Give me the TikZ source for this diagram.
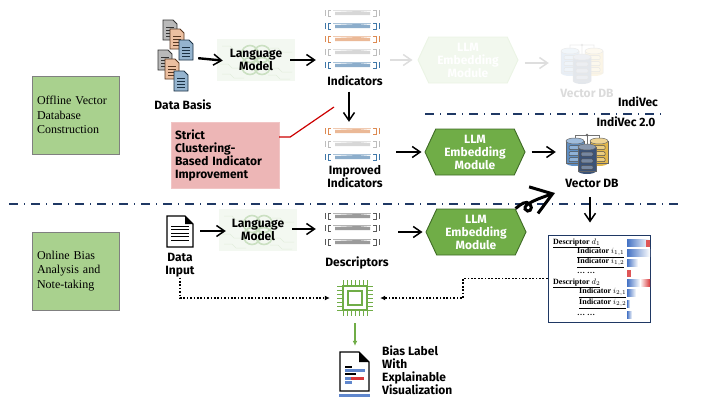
\documentclass[tikz,border=0pt]{standalone}
\usepackage{amsmath,amssymb}
\usepackage{fontspec}
\usepackage{xcolor}
\setmainfont{Liberation Serif}
\newfontfamily\handfont{Fira Sans}
\usepackage{tikz}
\usetikzlibrary{shapes.symbols,arrows.meta,positioning,calc}
\definecolor{navyline}{HTML}{1F3864}
\definecolor{hexgreen}{HTML}{70AD47}
\definecolor{hexedge}{HTML}{3F6B26}
\definecolor{sidegreen}{HTML}{A9D18E}
\definecolor{pinkfill}{HTML}{EDB6B6}
\definecolor{docgray}{HTML}{7F7F7F}
\definecolor{docorange}{HTML}{DD8A52}
\definecolor{docblue}{HTML}{3F77A8}
\definecolor{barpale}{HTML}{BDBDBD}
\definecolor{bardark}{HTML}{595959}
\definecolor{lmpale}{HTML}{F3F8F1}
\definecolor{lmring}{HTML}{CBE0C2}
\definecolor{lmtrace}{HTML}{E2EEDD}
\definecolor{heatblue}{HTML}{4472C4}
\definecolor{heatred}{HTML}{D9383A}
\definecolor{dbyellow}{HTML}{E3B84B}
\definecolor{dbnavy}{HTML}{3B5378}
\definecolor{dbblue}{HTML}{5F8FC4}
\newcommand{\dbcyl}[4]{% x, y, half height, colour
  \fill[#4] (#1,#2+#3) ellipse (9pt and 3pt);
  \filldraw[draw=black!60, fill=#4, line width=0.5pt] (#1-9,#2-#3) rectangle (#1+9,#2+#3);
  \filldraw[draw=black!60, fill=#4!60!white, line width=0.5pt] (#1,#2-#3) ellipse (9pt and 3pt);
  \foreach \k in {-0.4,0.15,0.7}
    \draw[black!70, line width=0.5pt, rounded corners=1pt, fill=white!30!#4] (#1-6,{#2+\k*#3-2}) rectangle (#1+6,{#2+\k*#3+2});
}
\tikzset{
  hexmod/.style={signal, signal to=east and west, signal pointer angle=130, draw=hexedge, line width=0.9pt,
                 fill=hexgreen, text=white, align=center, minimum width=100pt, minimum height=46pt, inner sep=0pt,
                 font=\handfont\bfseries\fontsize{12}{13}\selectfont},
  hexfade/.style={hexmod, draw=hexgreen!14, fill=hexgreen!9},
  hand/.style={align=center, inner sep=0pt, font=\handfont\bfseries\fontsize{12}{13}\selectfont},
  sidebox/.style={rectangle, draw=black!50, line width=0.8pt, fill=sidegreen, text width=77pt, minimum width=87pt,
                  minimum height=78pt, inner sep=5pt, align=left, font=\fontsize{12}{14.5}\selectfont},
  iconbox/.style={rectangle, inner sep=0pt},
  lmbox/.style={rectangle, fill=lmpale, minimum width=78pt, minimum height=42pt, inner sep=0pt, align=center,
                font=\handfont\bfseries\fontsize{12}{13}\selectfont,
    path picture={
      \foreach \dx/\dy in {-34/-14,14/-12,-36/4,14/8,-34/14,12/15}
        \draw[lmtrace, line width=0.5pt] ($(path picture bounding box.center)+(\dx,\dy)$) -- ++(8,0) -- ++(4,4) -- ++(10,0);
      \foreach \dx/\dy in {-6/-6,6/-6,-6/6,6/6}
        \draw[lmring, line width=1.6pt] ($(path picture bounding box.center)+(\dx,\dy)$) circle (8.5pt);
    }},
  ar/.style={-{Straight Barb[length=8pt,width=11pt,line width=1.5pt]}, line width=2.4pt},
  arfade/.style={ar, draw=black!13},
  bigar/.style={-{Straight Barb[length=20pt,width=28pt,line width=3pt]}, line width=3pt},
  dotar/.style={-{Latex[length=5pt,width=5pt]}, line width=1.5pt, dash pattern=on 1.7pt off 1.7pt},
  sepline/.style={navyline, line width=1.2pt, dash pattern=on 9pt off 6pt on 1pt off 6pt},
  pics/docicon/.style={code={
    \filldraw[draw=black!60!#1, fill=#1!55!white, line width=0.9pt] (-7,-10) -- (3,-10) -- (7,-6) -- (7,10) -- (-7,10) -- cycle;
    \foreach \yy in {-3,0,3,6}
      \draw[black!60!#1, line width=0.6pt] (-4,\yy) -- (4,\yy);
  }},
  pics/indbar/.style={code={
    \draw[#1, line width=0.9pt] (-27,-3) -- (-27,3) (-21,-3) -- (-24,-3) -- (-24,3) -- (-21,3);
    \draw[#1, line width=0.9pt] (27,-3) -- (27,3) (21,-3) -- (24,-3) -- (24,3) -- (21,3);
    \draw[#1!45!white, line width=0.4pt] (-19,-3) -- (19,-3);
    \fill[#1!60!white] (-17,-1) -- (6,-2) -- (18,-1) -- (18,2) -- (-17,2) -- cycle;
  }},
  pics/chipicon/.style={code={
    \draw[hexgreen, line width=1.8pt] (-12,-12) rectangle (12,12);
    \draw[hexgreen, line width=1.6pt] (-7,-7) rectangle (7,7);
    \foreach \pp in {-12,-8,-4,0,4,8,12} {
      \draw[hexgreen, line width=0.9pt] (\pp,-18) -- (\pp,-13) (\pp,13) -- (\pp,18) (-18,\pp) -- (-13,\pp) (13,\pp) -- (18,\pp);
    }
  }},
  pics/dbicon/.style={code={
    \draw[black!55, line width=0.8pt] (-12,-13) -- (-12,-18) -- (12,-18) -- (12,-13) (0,-18) -- (0,-6);
    \fill[black!60] (0,-18) circle (1.4pt);
    \dbcyl{-12}{-1}{11}{dbblue}
    \dbcyl{12}{-1}{11}{dbyellow}
    \dbcyl{0}{6}{12}{dbnavy}
  }}
}
\begin{document}
\begin{tikzpicture}[x=1pt, y=-1pt]
\useasboundingbox (0,0) rectangle (720,405);
% ---- side boxes ----
\node[sidebox] (offbox) at (75.5,115) {Offline Vector\\Database\\Construction};
\node[sidebox] (onbox) at (75.5,271) {Online Bias\\Analysis and\\Note-taking};
% ---- upper row ----
\node[iconbox, minimum width=36pt, minimum height=70pt] (docs) at (178,58) {};
\foreach \cc/\xx/\yy in {docgray/170/30,docorange/177/39,docblue/186/50,docgray/165/60,docorange/172/69,docblue/181/81}
  \pic at (\xx,\yy) {docicon=\cc};
\node[hand, below=6pt of docs, xshift=5pt] (docslbl) {Data Basis};
\node[lmbox] (lmup) at (256,60) {Language\\Model};
\draw[ar, shorten <=2pt, shorten >=-6pt] (docs.east) -- (lmup.west);
\node[iconbox, minimum width=56pt, minimum height=60pt] (inds) at (352,39) {};
\foreach \cc/\yy in {barpale/13,docblue/26,docorange/39,barpale/52,docblue/65}
  \pic at (352,\yy) {indbar=\cc};
\draw[ar, shorten <=-5pt, shorten >=8pt] (lmup.east) -- (inds.west |- lmup.east);
\node[hand, below=6pt of inds, xshift=3pt] (indslbl) {Indicators};
\node[hexfade] (hexup) at (468,60) {LLM\\Embedding\\Module};
\draw[arfade, shorten <=10pt, shorten >=5pt] (inds.east |- hexup.west) -- (hexup.west);
\node[iconbox, minimum width=42pt, minimum height=42pt] (dbup) at (582,63) {};
\begin{scope}[transparency group, opacity=0.14]
\pic at (dbup) {dbicon};
\end{scope}
\draw[arfade, shorten <=6pt, shorten >=12pt] (hexup.east |- dbup.west) -- (dbup.west);
\node[hand, text=black!14, below=5pt of dbup, xshift=5pt] (dbuplbl) {Vector DB};
\node[hand] (ivold) at (638,102) {IndiVec};
\coordinate (sepaL) at (425,114);
\coordinate (sepaR) at (666,114);
\draw[sepline] (sepaL) -- (sepaR);
\node[hand] (ivnew) at (626,122) {IndiVec 2.0};
% ---- improved row ----
\node[iconbox, minimum width=56pt, minimum height=34pt] (impr) at (352,144) {};
\foreach \cc/\yy in {docorange/131,barpale/144,docblue/157}
  \pic at (352,\yy) {indbar=\cc};
\draw[ar, shorten <=6pt, shorten >=5pt] ([xshift=-3pt]impr.north |- indslbl.south) -- ([xshift=-3pt]impr.north);
\node[hand, below=4pt of impr, xshift=3pt] (imprlbl) {Improved\\Indicators};
\node[rectangle, fill=pinkfill, draw=pinkfill!80!white, minimum width=108pt, minimum height=66pt, text width=100pt, inner sep=4pt,
      font=\handfont\bfseries\fontsize{12}{13}\selectfont, align=left] (strict) at (225,155) {Strict\\Clustering-\\Based Indicator\\Improvement};
\coordinate (redEnd) at (334,107);
\draw[red!80!black, line width=1.2pt] ([yshift=18pt]strict.east) -- ++(11,0) -- (redEnd);
\node[hexmod] (hexmid) at (475,152) {LLM\\Embedding\\Module};
\draw[ar, shorten <=16pt, shorten >=3pt] (impr.east |- hexmid.west) -- (hexmid.west);
\node[iconbox, minimum width=42pt, minimum height=42pt] (dbmid) at (587,153) {};
\pic at (dbmid) {dbicon};
\draw[ar, shorten <=6pt, shorten >=10pt] (hexmid.east) -- (dbmid.west |- hexmid.east);
\node[hand, below=5pt of dbmid, xshift=5pt] (dbmidlbl) {Vector DB};
% ---- middle separator ----
\coordinate (sepbL) at (9,204);
\coordinate (sepbR) at (682,204);
\draw[sepline] (sepbL) -- (sepbR);
% ---- lower row ----
\node[iconbox, minimum width=26pt, minimum height=32pt] (inputdoc) at (180,231) {};
\filldraw[draw=black, fill=white, line width=1.3pt] (167,216) -- (185,216) -- (193,224) -- (193,247) -- (167,247) -- cycle;
\fill (185,216) -- (193,224) -- (185,224) -- cycle;
\foreach \yy in {226,229.5,233,236.5,240}
  \draw[black, line width=0.9pt] (171,\yy) -- (189,\yy);
\node[hand, below=6pt of inputdoc] (inputlbl) {Data\\Input};
\node[lmbox] (lmdown) at (258,230) {Language\\Model};
\draw[ar, shorten <=7pt, shorten >=-7pt] (inputdoc.east) -- (lmdown.west |- inputdoc.east);
\node[iconbox, minimum width=56pt, minimum height=34pt] (descs) at (352,229) {};
\foreach \yy in {216,228,242}
  \pic at (352,\yy) {indbar=bardark};
\draw[ar, shorten <=-5pt, shorten >=8pt] (lmdown.east |- descs.west) -- (descs.west);
\node[hand, below=10pt of descs, xshift=5pt] (descslbl) {Descriptors};
\node[hexmod] (hexdown) at (476,232) {LLM\\Embedding\\Module};
\draw[ar, shorten <=18pt, shorten >=3pt] (descs.east |- hexdown.west) -- (hexdown.west);
\coordinate (curlEnd) at (555,193);
\draw[bigar] (hexdown.north east) .. controls (521,204) and (526,200) .. (530,204) .. controls (534,209) and (528,214) .. (525,209) .. controls (523,204) and (540,198) .. (curlEnd);
% ---- descriptor panel ----
\node[rectangle, draw=navyline, line width=1pt, fill=white, minimum width=102pt, minimum height=87pt, inner sep=0pt] (descpanel) at (599,278.5) {};
\foreach \yy/\ww in {243/22,253/23,263/11,283/14,293/9,304/3,315/5}
  \shade[left color=heatblue, right color=white] (627,\yy-3.5) rectangle ({627+\ww},\yy+3.5);
\shade[left color=heatblue, right color=white] (627,279.5) rectangle (640,286.5);
\shade[left color=white, right color=heatred] (640,279.5) rectangle (650,286.5);
\fill[heatred!85] (646,239.5) rectangle (650,246.5);
\fill[heatred!85] (627,269.5) rectangle (631,276.5);
\foreach \tx/\yy/\lbl in {553/243/{Descriptor $d_1$},577/253/{Indicator $i_{1,1}$},577/263/{Indicator $i_{1,2}$},553/283/{Descriptor $d_2$},579/293/{Indicator $i_{2,1}$},579/304/{Indicator $i_{2,2}$}}
  \node[anchor=west, inner sep=0pt, font=\fontsize{8}{9}\selectfont\bfseries] at (\tx,\yy) {\underline{\lbl}};
\foreach \yy in {273,315}
  \node[anchor=west, inner sep=0pt, font=\fontsize{8}{9}\selectfont\bfseries] at (577,\yy) {\dots\ \dots};
\draw[ar, shorten <=9pt, shorten >=12pt] ([xshift=-9pt]descpanel.north |- dbmidlbl.south) -- ([xshift=-9pt]descpanel.north);
% ---- chip and output ----
\node[iconbox, minimum width=36pt, minimum height=36pt] (chip) at (355,298) {};
\pic at (chip) {chipicon};
\draw[dotar, shorten >=7pt] (inputlbl.south) |- (chip.west);
\coordinate (kneeR) at (463,298);
\draw[dotar, shorten >=7pt] (descpanel.west) -| (kneeR) -- (chip.east);
\node[iconbox, minimum width=31pt, minimum height=45pt] (report) at (354.5,374.5) {};
\filldraw[draw=black, fill=white, line width=1.4pt] (340,352) -- (359,352) -- (369,362) -- (369,391) -- (340,391) -- cycle;
\fill (359,352) -- (369,362) -- (359,362) -- cycle;
\fill[heatblue!85] (339,394) rectangle (370,397);
\fill[black] (345,366) rectangle (352,368);
\fill[heatblue!85] (345,369) rectangle (365,372);
\fill[black] (345,373) rectangle (356,375);
\fill[heatred] (351,377) rectangle (364,380);
\fill[heatblue!85] (345,377) rectangle (351,380);
\fill[heatblue!85] (345,381) rectangle (352,384);
\draw[-{Latex[length=5pt,width=5pt]}, hexgreen, line width=1.2pt, shorten <=7pt, shorten >=6pt] (chip.south) -- (report.north -| chip.south);
\node[hand, align=left, anchor=north west] (reportlbl) at (382,345.5) {Bias Label\\With\\Explainable\\Visualization};
\end{tikzpicture}
\end{document}
